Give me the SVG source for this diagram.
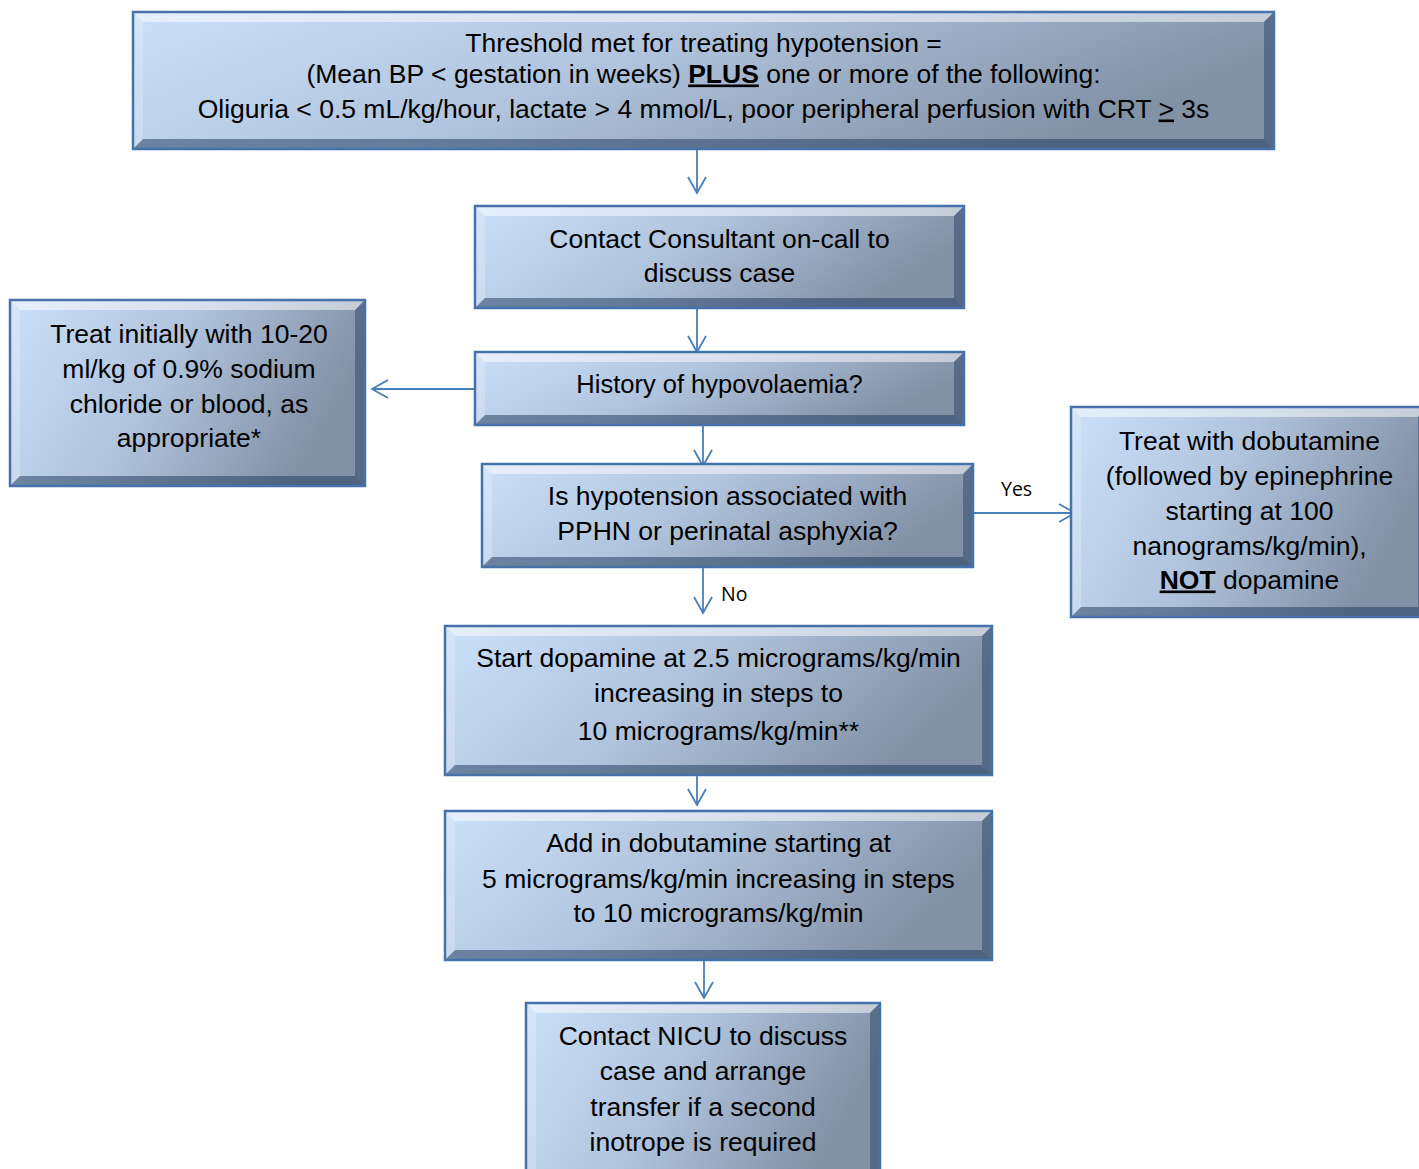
<svg xmlns="http://www.w3.org/2000/svg" width="1419" height="1169" viewBox="0 0 1419 1169">
<style>
.box{fill:url(#g)}
.bt{fill:#ffffff;fill-opacity:0.5}
.bl{fill:#ffffff;fill-opacity:0.22}
.bb{fill:#1c3557;fill-opacity:0.5}
.br{fill:#1c3557;fill-opacity:0.42}
.edge{fill:none;stroke:#4672ab;stroke-width:2.5}
.t{font-family:"Liberation Sans",Arial,sans-serif;font-size:26.5px;fill:#000;text-anchor:middle}
.lbl{font-family:"Open Sans","Liberation Sans",sans-serif;font-size:19.5px;fill:#000}
.c{fill:none;stroke:#4a7ebb;stroke-width:1.8}
</style>
<defs>
<linearGradient id="g" x1="0" y1="0" x2="1" y2="0.3">
<stop offset="0" stop-color="#cbe0f9"/>
<stop offset="0.5" stop-color="#afc3dc"/>
<stop offset="1" stop-color="#8191a6"/>
</linearGradient>
<marker id="ah" viewBox="0 0 19 20" refX="17" refY="10" markerWidth="19" markerHeight="20" markerUnits="userSpaceOnUse" orient="auto">
<path d="M1,1 L17,10 L1,19" fill="none" stroke="#4a7ebb" stroke-width="1.8"/>
</marker>
</defs>
<rect width="1419" height="1169" fill="#fff"/>

<g id="connectors">
<line class="c" x1="697" y1="149" x2="697" y2="193" marker-end="url(#ah)"/>
<line class="c" x1="697" y1="308" x2="697" y2="352" marker-end="url(#ah)"/>
<line class="c" x1="475" y1="389" x2="372" y2="389" marker-end="url(#ah)"/>
<line class="c" x1="703" y1="425" x2="703" y2="466" marker-end="url(#ah)"/>
<line class="c" x1="973" y1="513" x2="1075" y2="513" marker-end="url(#ah)"/>
<line class="c" x1="703" y1="567" x2="703" y2="613" marker-end="url(#ah)"/>
<line class="c" x1="697" y1="775" x2="697" y2="805" marker-end="url(#ah)"/>
<line class="c" x1="704" y1="960" x2="704" y2="998" marker-end="url(#ah)"/>
<text class="lbl" x="1001" y="496">Yes</text>
<text class="lbl" x="721" y="601">No</text>
</g>

<g id="n1">
<rect class="box" x="133" y="12" width="1141" height="137"/>
<path class="bt" d="M133,12 L1274,12 L1264,22 L143,22 Z"/>
<path class="bl" d="M133,12 L143,22 L143,139 L133,149 Z"/>
<path class="bb" d="M133,149 L143,139 L1264,139 L1274,149 Z"/>
<path class="br" d="M1274,12 L1274,149 L1264,139 L1264,22 Z"/>
<rect class="edge" x="133" y="12" width="1141" height="137"/>
<text class="t" x="703.5" y="51.5">Threshold met for treating hypotension =</text>
<text class="t" x="703.5" y="82.5">(Mean BP &lt; gestation in weeks) <tspan font-weight="bold" text-decoration="underline">PLUS</tspan> one or more of the following:</text>
<text class="t" x="703.5" y="117.5">Oliguria &lt; 0.5 mL/kg/hour, lactate &gt; 4 mmol/L, poor peripheral perfusion with CRT <tspan text-decoration="underline">&gt;</tspan> 3s</text>
</g>

<g id="n2">
<rect class="box" x="475" y="206" width="489" height="102"/>
<path class="bt" d="M475,206 L964,206 L954,216 L485,216 Z"/>
<path class="bl" d="M475,206 L485,216 L485,298 L475,308 Z"/>
<path class="bb" d="M475,308 L485,298 L954,298 L964,308 Z"/>
<path class="br" d="M964,206 L964,308 L954,298 L954,216 Z"/>
<rect class="edge" x="475" y="206" width="489" height="102"/>
<text class="t" x="719.5" y="247.5">Contact Consultant on-call to</text>
<text class="t" x="719.5" y="281.5">discuss case</text>
</g>

<g id="n3">
<rect class="box" x="475" y="352" width="489" height="73"/>
<path class="bt" d="M475,352 L964,352 L954,362 L485,362 Z"/>
<path class="bl" d="M475,352 L485,362 L485,415 L475,425 Z"/>
<path class="bb" d="M475,425 L485,415 L954,415 L964,425 Z"/>
<path class="br" d="M964,352 L964,425 L954,415 L954,362 Z"/>
<rect class="edge" x="475" y="352" width="489" height="73"/>
<text class="t" x="719.5" y="392.5" style="font-size:25.5px">History of hypovolaemia?</text>
</g>

<g id="n4">
<rect class="box" x="10" y="300" width="355" height="186"/>
<path class="bt" d="M10,300 L365,300 L355,310 L20,310 Z"/>
<path class="bl" d="M10,300 L20,310 L20,476 L10,486 Z"/>
<path class="bb" d="M10,486 L20,476 L355,476 L365,486 Z"/>
<path class="br" d="M365,300 L365,486 L355,476 L355,310 Z"/>
<rect class="edge" x="10" y="300" width="355" height="186"/>
<text class="t" x="189" y="343">Treat initially with 10-20</text>
<text class="t" x="189" y="378">ml/kg of 0.9% sodium</text>
<text class="t" x="189" y="413">chloride or blood, as</text>
<text class="t" x="189" y="447">appropriate*</text>
</g>

<g id="n5">
<rect class="box" x="482" y="464" width="491" height="103"/>
<path class="bt" d="M482,464 L973,464 L963,474 L492,474 Z"/>
<path class="bl" d="M482,464 L492,474 L492,557 L482,567 Z"/>
<path class="bb" d="M482,567 L492,557 L963,557 L973,567 Z"/>
<path class="br" d="M973,464 L973,567 L963,557 L963,474 Z"/>
<rect class="edge" x="482" y="464" width="491" height="103"/>
<text class="t" x="727.5" y="504.5">Is hypotension associated with</text>
<text class="t" x="727.5" y="539.5">PPHN or perinatal asphyxia?</text>
</g>

<g id="n6">
<rect class="box" x="1071" y="407" width="357" height="210"/>
<path class="bt" d="M1071,407 L1428,407 L1418,417 L1081,417 Z"/>
<path class="bl" d="M1071,407 L1081,417 L1081,607 L1071,617 Z"/>
<path class="bb" d="M1071,617 L1081,607 L1418,607 L1428,617 Z"/>
<path class="br" d="M1428,407 L1428,617 L1418,607 L1418,417 Z"/>
<rect class="edge" x="1071" y="407" width="357" height="210"/>
<text class="t" x="1249.5" y="449.5">Treat with dobutamine</text>
<text class="t" x="1249.5" y="484.5">(followed by epinephrine</text>
<text class="t" x="1249.5" y="519.5">starting at 100</text>
<text class="t" x="1249.5" y="554.5">nanograms/kg/min),</text>
<text class="t" x="1249.5" y="588.5"><tspan font-weight="bold" text-decoration="underline">NOT</tspan> dopamine</text>
</g>

<g id="n7">
<rect class="box" x="445" y="626" width="547" height="149"/>
<path class="bt" d="M445,626 L992,626 L982,636 L455,636 Z"/>
<path class="bl" d="M445,626 L455,636 L455,765 L445,775 Z"/>
<path class="bb" d="M445,775 L455,765 L982,765 L992,775 Z"/>
<path class="br" d="M992,626 L992,775 L982,765 L982,636 Z"/>
<rect class="edge" x="445" y="626" width="547" height="149"/>
<text class="t" x="718.5" y="666.5">Start dopamine at 2.5 micrograms/kg/min</text>
<text class="t" x="718.5" y="701.5">increasing in steps to</text>
<text class="t" x="718.5" y="739.5">10 micrograms/kg/min**</text>
</g>

<g id="n8">
<rect class="box" x="445" y="811" width="547" height="149"/>
<path class="bt" d="M445,811 L992,811 L982,821 L455,821 Z"/>
<path class="bl" d="M445,811 L455,821 L455,950 L445,960 Z"/>
<path class="bb" d="M445,960 L455,950 L982,950 L992,960 Z"/>
<path class="br" d="M992,811 L992,960 L982,950 L982,821 Z"/>
<rect class="edge" x="445" y="811" width="547" height="149"/>
<text class="t" x="718.5" y="851.5">Add in dobutamine starting at</text>
<text class="t" x="718.5" y="887.5">5 micrograms/kg/min increasing in steps</text>
<text class="t" x="718.5" y="921.5">to 10 micrograms/kg/min</text>
</g>

<g id="n9">
<rect class="box" x="526" y="1003" width="354" height="182"/>
<path class="bt" d="M526,1003 L880,1003 L870,1013 L536,1013 Z"/>
<path class="bl" d="M526,1003 L536,1013 L536,1175 L526,1185 Z"/>
<path class="bb" d="M526,1185 L536,1175 L870,1175 L880,1185 Z"/>
<path class="br" d="M880,1003 L880,1185 L870,1175 L870,1013 Z"/>
<rect class="edge" x="526" y="1003" width="354" height="182"/>
<text class="t" x="703" y="1044.5">Contact NICU to discuss</text>
<text class="t" x="703" y="1079.5">case and arrange</text>
<text class="t" x="703" y="1115.5">transfer if a second</text>
<text class="t" x="703" y="1150.5">inotrope is required</text>
</g>
</svg>
